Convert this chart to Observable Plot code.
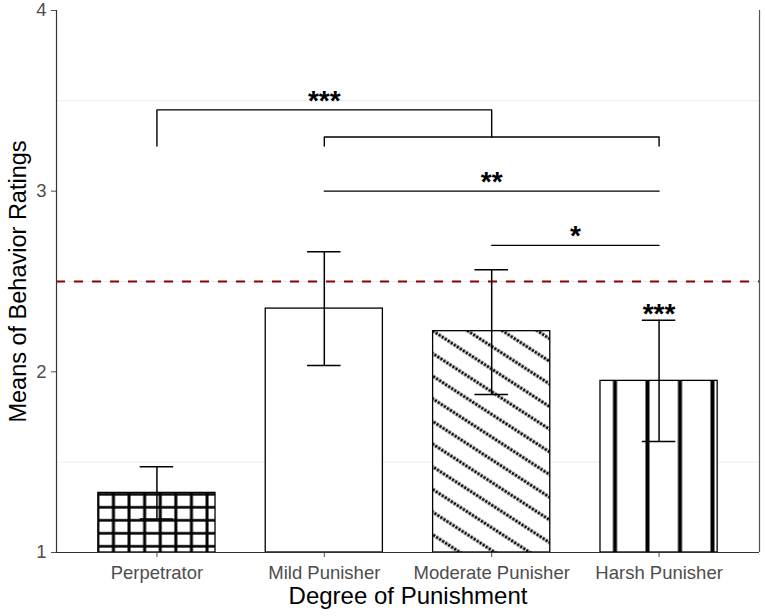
<!DOCTYPE html>
<html><head><meta charset="utf-8">
<script src="https://cdn.jsdelivr.net/npm/d3@7"></script>
<script src="https://cdn.jsdelivr.net/npm/@observablehq/plot@0.6"></script>
<style>body{margin:0;background:#fff} #chart svg{display:block}</style>
</head><body><div id="chart"></div>
<script>
// ---- data ----
const categories = ["Perpetrator", "Mild Punisher", "Moderate Punisher", "Harsh Punisher"];
const means   = [1.33, 2.35, 2.225, 1.95];
const seLower = [1.185, 2.035, 1.875, 1.615];
const seUpper = [1.475, 2.665, 2.565, 2.285];
const patternNames = ["grid", "none", "diagonal", "vertical"];
const yTicks = [1, 2, 3, 4];
const referenceValue = 2.5;
const gridValues = [1.5, 2.5, 3.5];
// significance comparisons (category positions 1..4)
const sigFrom   = [1, 2, 2, 3];
const sigTo     = [3, 4, 4, 4];
const sigY      = [3.45, 3.30, 3.00, 2.70];
const sigLegA   = [3.25, 3.25, 3.00, 2.70];
const sigLegB   = [3.30, 3.25, 3.00, 2.70];
const sigLabels = ["***", "", "**", "*"];
const harshLabel = "***";

// ---- derived tables ----
const barWidth = 0.7, capHalf = 0.1;
const rows = categories.map((c, i) => ({
  pos: i + 1, cat: c, mean: means[i], lo: seLower[i], hi: seUpper[i],
  fill: patternNames[i] === "none" ? "white" : `url(#pat-${patternNames[i]})`
}));
const bracketPts = [];
sigFrom.forEach((a, k) => {
  const b = sigTo[k];
  bracketPts.push({id: k, x: a, y: sigLegA[k]}, {id: k, x: a, y: sigY[k]},
                  {id: k, x: b, y: sigY[k]}, {id: k, x: b, y: sigLegB[k]});
});
const sigText = sigFrom.map((a, k) => ({x: (a + sigTo[k]) / 2, y: sigY[k], t: sigLabels[k]}))
  .filter(d => d.t);
const harshText = [{x: 4, y: seUpper[3], t: harshLabel}];

const font = "'Liberation Sans', Arial, Helvetica, sans-serif";

const plot = Plot.plot({
  width: 765, height: 616,
  marginLeft: 56, marginRight: 6, marginTop: 10, marginBottom: 64,
  style: {fontFamily: font, fontSize: "18.5px", color: "#4d4d4d", background: "white"},
  x: {domain: [0.4, 4.6], ticks: [1, 2, 3, 4], tickFormat: d => categories[d - 1], tickSize: 5, tickPadding: 8, label: null},
  y: {domain: [1, 4], ticks: yTicks, tickFormat: d => String(d), tickSize: 5, tickPadding: 5, label: null},
  color: {type: "identity"},
  marks: [
    Plot.ruleY(gridValues, {stroke: "#ebebeb", strokeWidth: 1}),
    Plot.ruleY([referenceValue], {stroke: "#8b0000", strokeWidth: 2, strokeDasharray: "9,9"}),
    Plot.rectY(rows, {x1: d => d.pos - barWidth / 2, x2: d => d.pos + barWidth / 2, y1: 1, y2: "mean",
                      fill: "fill", stroke: "black", strokeWidth: 1.3}),
    Plot.ruleX(rows, {x: "pos", y1: "lo", y2: "hi", stroke: "black", strokeWidth: 1.5}),
    Plot.ruleY(rows, {y: "hi", x1: d => d.pos - capHalf, x2: d => d.pos + capHalf, stroke: "black", strokeWidth: 1.5}),
    Plot.ruleY(rows, {y: "lo", x1: d => d.pos - capHalf, x2: d => d.pos + capHalf, stroke: "black", strokeWidth: 1.5}),
    Plot.line(bracketPts, {x: "x", y: "y", z: "id", stroke: "black", strokeWidth: 1.4}),
    Plot.text(sigText, {x: "x", y: "y", text: "t", fontSize: 28, fontWeight: "bold", fill: "black", dy: -9}),
    Plot.text(harshText, {x: "x", y: "y", text: "t", fontSize: 28, fontWeight: "bold", fill: "black", dy: -6}),
    Plot.ruleX([0.4], {stroke: "#333", strokeWidth: 1.2}),
    Plot.ruleX([4.6], {stroke: "#555", strokeWidth: 1.2}),
    Plot.ruleY([1], {stroke: "#333", strokeWidth: 1.2}),
    Plot.text(["Degree of Punishment"], {frameAnchor: "bottom", dy: 51, fontSize: 24, fill: "black"}),
    Plot.text(["Means of Behavior Ratings"], {frameAnchor: "left", textAnchor: "middle", dx: -38, rotate: -90, fontSize: 23.5, fill: "black"})
  ]
});

// ---- patterns, positioned from the plot's own scales ----
const sx = plot.scale("x"), sy = plot.scale("y");
const X = v => sx.apply(v), Y = v => sy.apply(v);
const svg = d3.select(plot.tagName.toLowerCase() === "svg" ? plot : plot.querySelector("svg"));
const defs = svg.insert("defs", ":first-child");

// grid (Perpetrator)
{
  const left = X(1 - barWidth / 2), bottom = Y(1);
  const w = 15.6, h = 13;
  const p = defs.append("pattern").attr("id", "pat-grid").attr("patternUnits", "userSpaceOnUse")
    .attr("x", left - w / 2).attr("y", bottom - 5.7 - h / 2).attr("width", w).attr("height", h);
  p.append("rect").attr("width", w).attr("height", h).attr("fill", "white");
  p.append("line").attr("x1", w / 2).attr("x2", w / 2).attr("y1", 0).attr("y2", h).attr("stroke", "black").attr("stroke-width", 3);
  p.append("line").attr("x1", 0).attr("x2", w).attr("y1", h / 2).attr("y2", h / 2).attr("stroke", "black").attr("stroke-width", 2.6);
}
// diagonal (Moderate)
{
  const left = X(3 - barWidth / 2), top = Y(means[2]);
  const w = 36, d = 19;
  const p = defs.append("pattern").attr("id", "pat-diagonal").attr("patternUnits", "userSpaceOnUse")
    .attr("width", w).attr("height", d)
    .attr("patternTransform", `translate(${left},${top}) rotate(33)`);
  p.append("rect").attr("width", w).attr("height", d).attr("fill", "white");
  for (const yy of [0, d]) {
    p.append("line").attr("x1", 0).attr("x2", w).attr("y1", yy).attr("y2", yy)
      .attr("stroke", "black").attr("stroke-width", 3).attr("stroke-dasharray", "2.4,1.2");
  }
}
// vertical (Harsh)
{
  const left = X(4 - barWidth / 2);
  const w = 32.5, h = 10;
  const p = defs.append("pattern").attr("id", "pat-vertical").attr("patternUnits", "userSpaceOnUse")
    .attr("x", left + 15 - w / 2).attr("y", 0).attr("width", w).attr("height", h);
  p.append("rect").attr("width", w).attr("height", h).attr("fill", "white");
  p.append("line").attr("x1", w / 2).attr("x2", w / 2).attr("y1", 0).attr("y2", h).attr("stroke", "black").attr("stroke-width", 4);
}

document.getElementById("chart").appendChild(plot);
</script>
</body></html>
